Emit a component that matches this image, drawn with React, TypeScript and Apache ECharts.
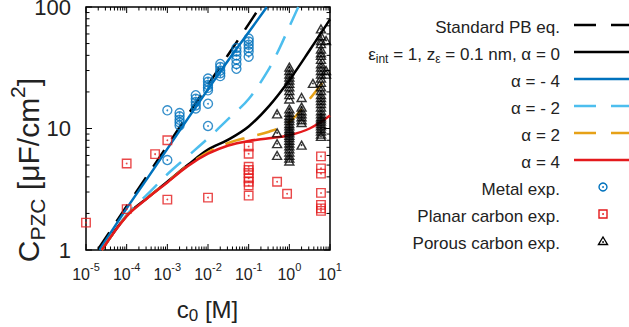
import React, { useEffect, useRef } from "react";
import * as echarts from "echarts";

const FONT = "'Liberation Sans', Arial, Helvetica, sans-serif";
const TXT = "#222";
const BLUE = "#0072BD";
const LBLUE = "#4DBEEE";
const ORANGE = "#E6A117";
const RED = "#E41A1C";
const DASH = [20, 13];

// Standard PB
const pbC = [2e-5, 1e-4, 1e-3, 1e-2, 0.1, 0.19];
const pbV = [1.02, 2.29, 7.23, 22.9, 72.3, 100];

// shared concentration grid for alpha = 0, 2, 4
const gridC = [2.45e-5, 1e-4, 3.16e-4, 1e-3, 3.16e-3, 1e-2, 3.16e-2, 0.1, 0.316, 1, 3.16, 10];
const alpha0V = [1.0, 1.92, 2.67, 3.65, 5.0, 6.7, 8.1, 10.4, 15.3, 25, 44, 79];
const alpha2V = [1.0, 1.91, 2.66, 3.62, 4.95, 6.4, 7.6, 8.5, 9.4, 11.3, 17.5, 29];
const alpha4V = [1.0, 1.9, 2.65, 3.6, 4.9, 6.2, 7.25, 7.9, 8.3, 8.8, 10, 12.8];

// alpha = -4
const alphaM4C = [2.14e-5, 1e-4, 3.16e-4, 1e-3, 3.16e-3, 1e-2, 3.16e-2, 0.1, 0.28];
const alphaM4V = [1.0, 2.2, 3.85, 6.8, 12, 21, 36.5, 62, 100];

// alpha = -2
const alphaM2C = [2.45e-5, 1e-4, 3.16e-4, 1e-3, 3.16e-3, 1e-2, 3.16e-2, 0.1, 0.316, 0.56, 1, 1.66];
const alphaM2V = [1.0, 1.95, 2.85, 4.2, 5.9, 8.3, 12, 17.5, 31, 45, 69, 100];

// Metal exp.
const metalC = [
  1e-3, 1e-3,
  2e-3, 2e-3, 2e-3, 2e-3, 2e-3,
  5e-3, 5e-3, 5e-3, 5e-3, 5e-3,
  1e-2, 1e-2, 1e-2, 1e-2, 1e-2, 1e-2, 1e-2,
  2e-2, 2e-2, 2e-2, 2e-2, 2e-2,
  5e-2, 5e-2, 5e-2, 5e-2, 5e-2, 5e-2,
  0.1, 0.1, 0.1, 0.1, 0.1, 0.1,
];
const metalV = [
  5.5, 14.1,
  13.4, 12.6, 11.8, 11.2, 10.6,
  18.8, 17.6, 16.5, 15.5, 14.6,
  25.8, 24.2, 22.8, 21.6, 20.6, 16.0, 10.5,
  34, 32, 30, 28.5, 27,
  46, 43, 40, 37, 34, 31,
  55, 52, 49, 46, 43, 39,
];

// Planar carbon exp.
const planarC = [
  1e-5, 1e-4, 1e-4, 5e-4, 1e-3, 1e-3, 1e-2,
  0.1, 0.1, 0.1, 0.1, 0.1, 0.1, 0.1, 0.1, 0.1,
  0.5, 0.88,
  6, 6, 6, 6, 6, 6, 6,
];
const planarV = [
  1.68, 2.17, 5.15, 6.15, 8.0, 2.6, 2.7,
  7.1, 6.2, 4.85, 4.55, 4.3, 3.9, 3.65, 3.4, 2.8,
  3.65, 2.9,
  5.9, 4.7, 4.25, 2.95, 2.35, 2.2, 2.1,
];

// Porous carbon exp.
const porousC = [
  0.5, 0.5, 0.5, 0.5,
  1, 1, 1, 1, 1, 1, 1, 1, 1, 1, 1, 1, 1, 1, 1, 1, 1, 1, 1, 1, 1, 1, 1, 1, 1, 1, 1, 1, 1, 1,
  2, 2, 2, 2, 2, 2, 2, 2,
  3.8,
  6, 6, 6, 6, 6, 6, 6, 6, 6, 6, 6, 6, 6, 6, 6, 6, 6, 6, 6, 6, 6, 6, 6, 6, 6, 6, 6, 6, 6, 6, 6, 6,
  8, 8, 8,
];
const porousV = [
  13.2, 9.2, 7.5, 6.0,
  32, 30, 28, 26.5, 25, 23.5, 22, 20.5, 19, 17.5, 14.5, 13.6, 12.8, 12.2, 11.6, 11.0, 10.5, 10.0, 9.6, 9.2, 8.8, 8.4, 8.0, 7.6, 7.2, 6.8, 6.4, 6.0, 5.7, 5.4,
  18, 15, 14, 13.2, 12.5, 11.8, 11.2, 7.3,
  23.5,
  66, 58, 53, 50, 45, 42, 40, 37, 34, 32, 30, 28, 26, 24, 22, 20.5, 19, 18, 17, 16, 15, 14, 13.2, 12.5, 12, 11.5, 11, 10.5, 10, 9.5, 9, 8.6,
  53, 30, 28,
];

// axis ticks
const xMajor = [1e-5, 1e-4, 1e-3, 1e-2, 1e-1, 1, 10];
const yMajor = [1, 10, 100];
const minorMult = [2, 3, 4, 5, 6, 7, 8, 9];

const pairs = (cs: number[], vs: number[]) => cs.map((c, i) => [c, vs[i]]);

function lineSeries(cs: number[], vs: number[], color: string, dashed: boolean, z: number) {
  return {
    type: "line",
    data: pairs(cs, vs),
    showSymbol: false,
    symbol: "none",
    smooth: 0.35,
    clip: true,
    silent: true,
    z,
    lineStyle: { color, width: 2.5, type: dashed ? DASH : "solid", cap: "butt" },
  };
}

function markerSeries(cs: number[], vs: number[], symbol: string, size: any, color: string, z: number) {
  return [
    {
      type: "scatter",
      data: pairs(cs, vs),
      symbol,
      symbolSize: size,
      clip: false,
      silent: true,
      z,
      itemStyle: { color: "rgba(0,0,0,0)", borderColor: color, borderWidth: 1.4 },
    },
    {
      type: "scatter",
      data: pairs(cs, vs),
      symbol: "circle",
      symbolSize: 1.8,
      clip: false,
      silent: true,
      z: z + 1,
      itemStyle: { color },
    },
  ];
}

export default function App() {
  const ref = useRef<HTMLDivElement>(null);
  useEffect(() => {
    if (!ref.current) return;
    const chart = echarts.init(ref.current, undefined, { renderer: "svg" });

    const xMinor: number[] = [];
    xMajor.slice(0, -1).forEach((d) => minorMult.forEach((m) => xMinor.push(d * m)));
    const yMinor: number[] = [];
    yMajor.slice(0, -1).forEach((d) => minorMult.forEach((m) => yMinor.push(d * m)));

    const xTickData = [...xMajor.map((v) => [v, 10, 6]), ...xMinor.map((v) => [v, 10, 3.5])];
    const yTickData = [...yMajor.map((v) => [1, v, 6]), ...yMinor.map((v) => [1, v, 3.5])];

    const tickStyle = { stroke: "#000", lineWidth: 1 };

    const legendLines = [
      { color: "#000", dashed: true },
      { color: "#000", dashed: false },
      { color: BLUE, dashed: false },
      { color: LBLUE, dashed: true },
      { color: ORANGE, dashed: true },
      { color: RED, dashed: false },
    ];
    const legendTexts = [
      "Standard PB eq.",
      null,
      "α = - 4",
      "α = - 2",
      "α = 2",
      "α = 4",
      "Metal exp.",
      "Planar carbon exp.",
      "Porous carbon exp.",
    ];
    const rowY = (k: number) => 25 + 27 * k;
    const graphics: any[] = [];
    legendTexts.forEach((t, k) => {
      if (t === null) return;
      graphics.push({
        type: "text",
        x: 560,
        y: rowY(k) + 2,
        style: { text: t, fill: TXT, fontSize: 17, fontFamily: FONT, align: "right", verticalAlign: "middle" },
      });
    });
    graphics.push({
      type: "text",
      x: 560,
      y: rowY(1) + 2 - 11,
      style: {
        text: "{m|ε}{s|int}{m| = 1, z}{s|ε}{m| = 0.1 nm, α = 0}",
        fill: TXT,
        align: "right",
        verticalAlign: "top",
        rich: {
          m: { fontSize: 17, fontFamily: FONT, fill: TXT, height: 22, verticalAlign: "top" },
          s: { fontSize: 12, fontFamily: FONT, fill: TXT, height: 32, verticalAlign: "top" },
        },
      },
    });
    legendLines.forEach((l, k) => {
      graphics.push({
        type: "line",
        shape: { x1: 574, y1: rowY(k), x2: 645, y2: rowY(k) },
        style: { stroke: l.color, lineWidth: 2.5, lineDash: l.dashed ? [22, 15] : null },
      });
    });
    // legend markers
    graphics.push({ type: "circle", shape: { cx: 603, cy: rowY(6), r: 4 }, style: { fill: "none", stroke: BLUE, lineWidth: 1.4 } });
    graphics.push({ type: "circle", shape: { cx: 603, cy: rowY(6), r: 0.9 }, style: { fill: BLUE } });
    graphics.push({ type: "rect", shape: { x: 599, y: rowY(7) - 4, width: 8, height: 8 }, style: { fill: "none", stroke: RED, lineWidth: 1.4 } });
    graphics.push({ type: "circle", shape: { cx: 603, cy: rowY(7), r: 0.9 }, style: { fill: RED } });
    graphics.push({ type: "polygon", shape: { points: [[603, rowY(8) - 4], [607.5, rowY(8) + 3.5], [598.5, rowY(8) + 3.5]] }, style: { fill: "none", stroke: "#000", lineWidth: 1.4 } });
    graphics.push({ type: "circle", shape: { cx: 603, cy: rowY(8) + 1, r: 0.9 }, style: { fill: "#000" } });

    // axis titles
    graphics.push({
      type: "text",
      x: 207.5,
      y: 295,
      style: {
        text: "{m|c}{s|0}{m| [M]}",
        fill: TXT,
        align: "center",
        verticalAlign: "top",
        rich: {
          m: { fontSize: 24, fontFamily: FONT, fill: TXT, height: 28, verticalAlign: "top" },
          s: { fontSize: 17, fontFamily: FONT, fill: TXT, height: 40, verticalAlign: "top" },
        },
      },
    });
    graphics.push({
      type: "text",
      x: 10,
      y: 170,
      rotation: Math.PI / 2,
      style: {
        text: "{m|C}{s|PZC}{m| [μF/cm}{p|2}{m|]}",
        fill: TXT,
        align: "center",
        verticalAlign: "top",
        rich: {
          m: { fontSize: 30, fontFamily: FONT, fill: TXT, height: 36, verticalAlign: "top" },
          s: { fontSize: 21, fontFamily: FONT, fill: TXT, height: 54, verticalAlign: "top" },
          p: { fontSize: 21, fontFamily: FONT, fill: TXT, height: 14, verticalAlign: "top" },
        },
      },
    });

    const option: any = {
      animation: false,
      backgroundColor: "#fff",
      grid: {
        left: 86,
        top: 7,
        width: 244,
        height: 243,
        show: true,
        borderColor: "#000",
        borderWidth: 1.5,
        backgroundColor: "rgba(0,0,0,0)",
        containLabel: false,
        outerBoundsMode: "none",
      },
      xAxis: {
        type: "log",
        logBase: 10,
        min: 1e-5,
        max: 10,
        axisLine: { show: false },
        axisTick: { show: false },
        splitLine: { show: false },
        minorTick: { show: false },
        axisLabel: {
          show: true,
          margin: 13,
          fontSize: 16,
          fontFamily: FONT,
          color: TXT,
          showMinLabel: true,
          showMaxLabel: true,
          hideOverlap: false,
          formatter: (v: number) => `{b|10}{s|${Math.round(Math.log10(v))}}`,
          rich: {
            b: { fontSize: 16, fontFamily: FONT, color: TXT, height: 22, verticalAlign: "top" },
            s: { fontSize: 11, fontFamily: FONT, color: TXT, height: 8, verticalAlign: "top" },
          },
        },
      },
      yAxis: {
        type: "log",
        logBase: 10,
        min: 1,
        max: 100,
        axisLine: { show: false },
        axisTick: { show: false },
        splitLine: { show: false },
        minorTick: { show: false },
        axisLabel: {
          show: true,
          margin: 15,
          showMinLabel: true,
          showMaxLabel: true,
          hideOverlap: false,
          fontSize: 22,
          fontFamily: FONT,
          color: TXT,
          formatter: (v: number) => String(Math.round(v)),
        },
      },
      graphic: graphics,
      series: [
        lineSeries(pbC, pbV, "#000", true, 2),
        lineSeries(gridC, alpha0V, "#000", false, 3),
        lineSeries(alphaM4C, alphaM4V, BLUE, false, 4),
        lineSeries(alphaM2C, alphaM2V, LBLUE, true, 5),
        lineSeries(gridC, alpha2V, ORANGE, true, 6),
        lineSeries(gridC, alpha4V, RED, false, 7),
        ...markerSeries(metalC, metalV, "circle", 9, BLUE, 10),
        ...markerSeries(planarC, planarV, "rect", 8.5, RED, 12),
        ...markerSeries(porousC, porousV, "triangle", [9, 8], "#000", 14),
        {
          type: "custom",
          data: xTickData,
          encode: { x: 0, y: 1 },
          silent: true,
          z: 20,
          renderItem: (params: any, api: any) => {
            const cs = params.coordSys;
            const px = api.coord([api.value(0), 10])[0];
            const len = api.value(2);
            return {
              type: "group",
              children: [
                { type: "line", shape: { x1: px, y1: cs.y + cs.height, x2: px, y2: cs.y + cs.height - len }, style: tickStyle },
                { type: "line", shape: { x1: px, y1: cs.y, x2: px, y2: cs.y + len }, style: tickStyle },
              ],
            };
          },
        },
        {
          type: "custom",
          data: yTickData,
          encode: { x: 0, y: 1 },
          silent: true,
          z: 20,
          renderItem: (params: any, api: any) => {
            const cs = params.coordSys;
            const py = api.coord([1, api.value(1)])[1];
            const len = api.value(2);
            return {
              type: "group",
              children: [
                { type: "line", shape: { x1: cs.x, y1: py, x2: cs.x + len, y2: py }, style: tickStyle },
                { type: "line", shape: { x1: cs.x + cs.width, y1: py, x2: cs.x + cs.width - len, y2: py }, style: tickStyle },
              ],
            };
          },
        },
      ],
    };
    chart.setOption(option);
    return () => chart.dispose();
  }, []);
  return (
    <div
      ref={ref}
      style={{ position: "fixed", left: 0, top: 0, width: 629, height: 327, background: "#fff" }}
    />
  );
}
